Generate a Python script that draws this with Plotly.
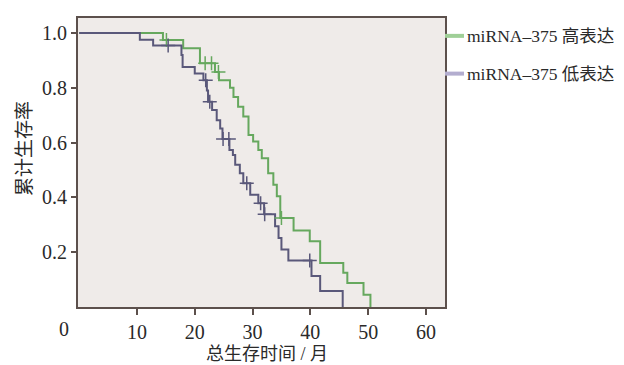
import plotly.graph_objects as go

# ---- data ----
high_t = [0, 14.5, 18.0, 20.9, 23.5, 24.2, 26.1, 26.7, 27.5, 28.4, 29.3, 30.1, 31.0, 31.6,
          32.7, 33.6, 34.2, 34.8, 37.1, 39.9, 41.7, 45.7, 46.4, 49.2, 50.4]
high_s = [1.0, 0.975, 0.945, 0.89, 0.858, 0.828, 0.80, 0.767, 0.731, 0.695, 0.628, 0.604, 0.573, 0.543,
          0.488, 0.446, 0.404, 0.325, 0.279, 0.24, 0.161, 0.125, 0.088, 0.045, 0.0]
high_cens_t = [15.1, 21.8, 22.9, 24.1, 35.0]
high_cens_s = [0.975, 0.89, 0.89, 0.858, 0.325]

low_t = [0, 10.5, 12.8, 17.7, 17.9, 20.0, 21.5, 22.1, 22.3, 23.0, 23.8, 24.4, 24.8, 26.0, 26.6,
         27.0, 27.8, 28.4, 29.6, 31.0, 32.0, 33.9, 34.5, 35.0, 36.2, 40.2, 41.7, 45.6]
low_s = [1.0, 0.976, 0.955, 0.92, 0.876, 0.852, 0.828, 0.79, 0.749, 0.719, 0.682, 0.652, 0.613, 0.573, 0.555,
         0.519, 0.488, 0.452, 0.41, 0.379, 0.339, 0.295, 0.252, 0.21, 0.17, 0.113, 0.058, 0.0]
low_cens_t = [15.4, 21.9, 22.6, 24.9, 25.9, 29.0, 31.4, 32.1, 39.9]
low_cens_s = [0.955, 0.828, 0.749, 0.613, 0.613, 0.452, 0.379, 0.339, 0.17]

x_ticks = [10, 20, 30, 40, 50, 60]
y_ticks = [0.2, 0.4, 0.6, 0.8, 1.0]
y_ticktext = ["0.2", "0.4", "0.6", "0.8", "1.0"]

series_names = ["miRNA\u2013375 高表达", "miRNA\u2013375 低表达"]

# ---- styles ----
GREEN = "#66a85e"
PURPLE = "#5a587a"
GREEN_LEG = "#9fcf97"
PURPLE_LEG = "#b3adcf"
FRAME = "#5c504c"
FONT = "Liberation Serif, Noto Sans CJK SC"
TXT = "#2a2a2a"

fig = go.Figure()
fig.add_trace(go.Scatter(x=high_t, y=high_s, mode="lines", line=dict(color=GREEN, width=2, shape="hv"),
                         name=series_names[0], showlegend=False))
fig.add_trace(go.Scatter(x=low_t, y=low_s, mode="lines", line=dict(color=PURPLE, width=2, shape="hv"),
                         name=series_names[1], showlegend=False))
fig.add_trace(go.Scatter(x=high_cens_t, y=high_cens_s, mode="markers",
                         marker=dict(symbol="cross-thin", size=10, line=dict(color=GREEN, width=1.5)),
                         showlegend=False))
fig.add_trace(go.Scatter(x=low_cens_t, y=low_cens_s, mode="markers",
                         marker=dict(symbol="cross-thin", size=10, line=dict(color=PURPLE, width=1.5)),
                         showlegend=False))

# page offset (body margin) compensation
OFF = 8
W, H = 624, 365
# desired plot area in page pixels
PL, PR, PT, PB = 78, 445, 16, 307
L = PL - OFF
T = PT - OFF
R = W - (PR - OFF)
B = H - (PB - OFF)
pw, ph = PR - PL, PB - PT

def px_x(p):
    return (p - PL) / pw

def px_y(p):
    return (PB - p) / ph

# custom legend
for name, col, ypix in [(series_names[0], GREEN_LEG, 34), (series_names[1], PURPLE_LEG, 72)]:
    fig.add_shape(type="line", xref="paper", yref="paper", x0=px_x(445), x1=px_x(464),
                  y0=px_y(ypix), y1=px_y(ypix), line=dict(color=col, width=4))
    fig.add_annotation(xref="paper", yref="paper", x=px_x(465), y=px_y(ypix), text=name,
                       showarrow=False, xanchor="left", yanchor="middle",
                       font=dict(family=FONT, size=17.5, color=TXT))

# axis titles and corner zero
fig.add_annotation(xref="paper", yref="paper", x=px_x(267), y=px_y(354), text="总生存时间 / 月",
                   showarrow=False, xanchor="center", yanchor="middle",
                   font=dict(family=FONT, size=18, color=TXT))
fig.add_annotation(xref="paper", yref="paper", x=px_x(24), y=px_y(148), text="累计生存率",
                   showarrow=False, textangle=-90, xanchor="center", yanchor="middle",
                   font=dict(family=FONT, size=19, color=TXT))
fig.add_annotation(xref="paper", yref="paper", x=px_x(64), y=px_y(329), text="0",
                   showarrow=False, xanchor="center", yanchor="middle",
                   font=dict(family=FONT, size=20, color=TXT))

fig.update_layout(
    width=W, height=H,
    margin=dict(l=L, r=R, t=T, b=B, pad=0),
    paper_bgcolor="white",
    plot_bgcolor="#efebe9",
    font=dict(family=FONT, size=20, color=TXT),
    showlegend=False,
)
fig.update_xaxes(range=[-0.2, 63.3], tickvals=x_ticks, ticks="outside", ticklen=6, tickwidth=1.5,
                 tickcolor=FRAME, showline=True, linecolor=FRAME, linewidth=2, mirror=True,
                 showgrid=False, zeroline=False, tickfont=dict(family=FONT, size=20, color=TXT))
fig.update_yaxes(range=[0, 1.055], tickvals=y_ticks, ticktext=y_ticktext, ticks="outside", ticklen=5,
                 tickwidth=1.5, tickcolor=FRAME, showline=True, linecolor=FRAME, linewidth=2, mirror=True,
                 showgrid=False, zeroline=False, tickfont=dict(family=FONT, size=20, color=TXT))

fig.write_html("out.html")
